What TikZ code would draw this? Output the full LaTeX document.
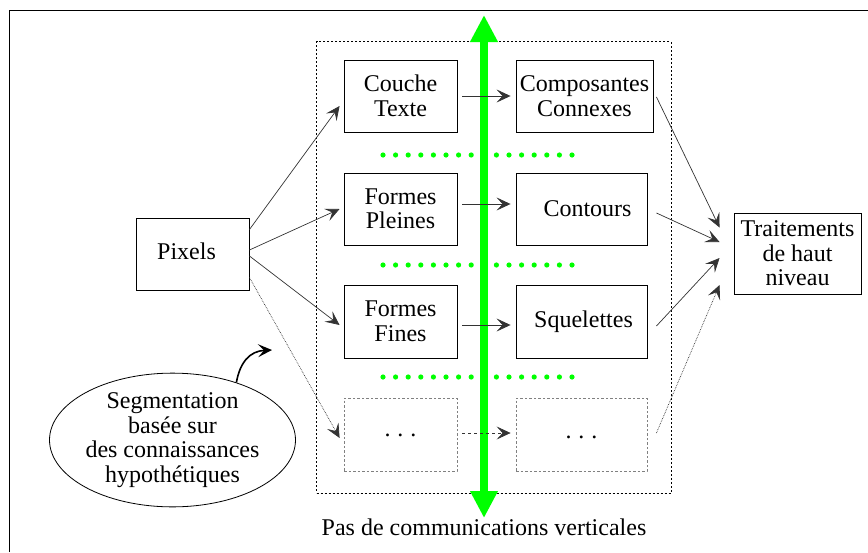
\documentclass[tikz,border=0pt]{standalone}
\usepackage{fontspec}
\setmainfont{Liberation Serif}
\usetikzlibrary{arrows.meta,shapes.geometric}

\begin{document}
\begin{tikzpicture}[x=1pt,y=-1pt,
    font=\fontsize{24}{24.5}\selectfont,
    boite/.style={draw, line width=0.9pt, inner sep=0pt, align=center},
    boitevide/.style={draw, gray, line width=0.8pt, dash pattern=on 2.5pt off 2pt, inner sep=0pt, align=center, text=black},
    fleche/.style={draw, black!80, line width=0.7pt, -{Stealth[length=14pt,width=13pt,inset=6pt]}},
    point/.style={fill=green, draw=none}]
    \useasboundingbox (0,0) rectangle (868,552);

    % Frame
    \draw[line width=1.2pt] (9.5,552) |- (868,10.5);

    % Layers
    \node[boitevide, black, dash pattern=on 2pt off 2pt, minimum width=354.5pt, minimum height=451.5pt] (couches) at (493.75,267.25) {};

    \node[boite, minimum width=113pt, minimum height=72pt] (pixels) at (192.5,254) {\raisebox{5pt}{Pixels}\hspace*{12pt}};
    \node[boite, minimum width=113pt, minimum height=72pt] (couche) at (400.5,96) {Couche\\Texte};
    \node[boite, minimum width=137pt, minimum height=72pt] (compos) at (584.5,96) {Composantes\\Connexes};
    \node[boite, minimum width=113pt, minimum height=72pt] (pleines) at (400.5,209) {Formes\\Pleines};
    \node[boite, minimum width=131pt, minimum height=72pt] (contours) at (581.5,209) {\hspace*{12pt}Contours};
    \node[boite, minimum width=113pt, minimum height=73pt] (fines) at (400.5,321.5) {Formes\\Fines};
    \node[boite, minimum width=131pt, minimum height=73pt] (squel) at (581.5,321.5) {\hspace*{4pt}Squelettes};
    \node[boitevide, minimum width=113pt, minimum height=73pt] (etcg) at (400.5,434.5) {\raisebox{-4pt}{.\hspace{7pt}.\hspace{7pt}.}};
    \node[boitevide, minimum width=131pt, minimum height=73pt] (etcd) at (581.5,434.5) {\raisebox{-8pt}{.\hspace{7pt}.\hspace{7pt}.}};
    \node[boite, minimum width=127pt, minimum height=81pt] (trait) at (797.5,253.5) {Traitements\\de haut\\niveau};
    \node[draw, ellipse, line width=0.8pt, inner sep=0pt, align=center, minimum width=245pt, minimum height=120pt] (segm) at (172.5,440) {Segmentation\\basée sur\\des connaissances\\hypothétiques};

    % Green dots
    \foreach \y in {155,265,377}
        \foreach \i in {0,...,15}
            \fill[point] (383+12.6*\i,\y) circle (2.6);

    % Vertical communication
    \coordinate (haut) at (484,15);
    \coordinate (bas) at (484,518);
    \draw[green, line width=8pt, {Triangle[length=27pt,width=26pt]}-{Triangle[length=27pt,width=26pt]}] (haut) -- (bas);
    \node[anchor=base] (legende) at (484,535) {Pas de communications verticales};

    % Pixels to layers
    \draw[fleche] ([yshift=-12pt]pixels.north east) -- ([shift={(-4pt,-10pt)}]couche.west);
    \draw[fleche] ([yshift=4pt]pixels.east) -- ([xshift=-4pt]pleines.west);
    \draw[fleche] ([yshift=-2pt]pixels.east) -- ([shift={(-4pt,-3.5pt)}]fines.west);
    \draw[fleche, densely dotted] ([yshift=13pt]pixels.south east) -- ([shift={(-4pt,-3.5pt)}]etcg.west);

    % Within layers
    \draw[fleche] ([xshift=5pt]couche.east) -- ([xshift=-5pt]compos.west);
    \draw[fleche] ([shift={(5pt,5pt)}]pleines.east) -- ([shift={(-5pt,5pt)}]contours.west);
    \draw[fleche] ([shift={(5pt,-3.5pt)}]fines.east) -- ([shift={(-5pt,-3.5pt)}]squel.west);
    \draw[fleche, dashed] ([shift={(5pt,1.5pt)}]etcg.east) -- ([shift={(-5pt,1.5pt)}]etcd.west);

    % To high level
    \draw[fleche] ([shift={(3pt,-1pt)}]compos.east) -- ([shift={(-14pt,26pt)}]trait.west);
    \draw[fleche] ([shift={(9pt,-4pt)}]contours.east) -- ([shift={(-14pt,11.5pt)}]trait.west);
    \draw[fleche] ([shift={(9pt,-4.5pt)}]squel.east) -- ([shift={(-14pt,-4.5pt)}]trait.west);
    \draw[fleche, densely dotted] ([shift={(9pt,1.5pt)}]etcd.east) -- ([shift={(-14pt,-31.5pt)}]trait.west);

    % Hypothesis
    \coordinate (cible) at (272,350);
    \draw[line width=1.6pt, -{Stealth[length=14pt,width=13pt,inset=6pt]}] (segm.42) .. controls (240,362) and (250,351) .. (cible);
\end{tikzpicture}
\end{document}
